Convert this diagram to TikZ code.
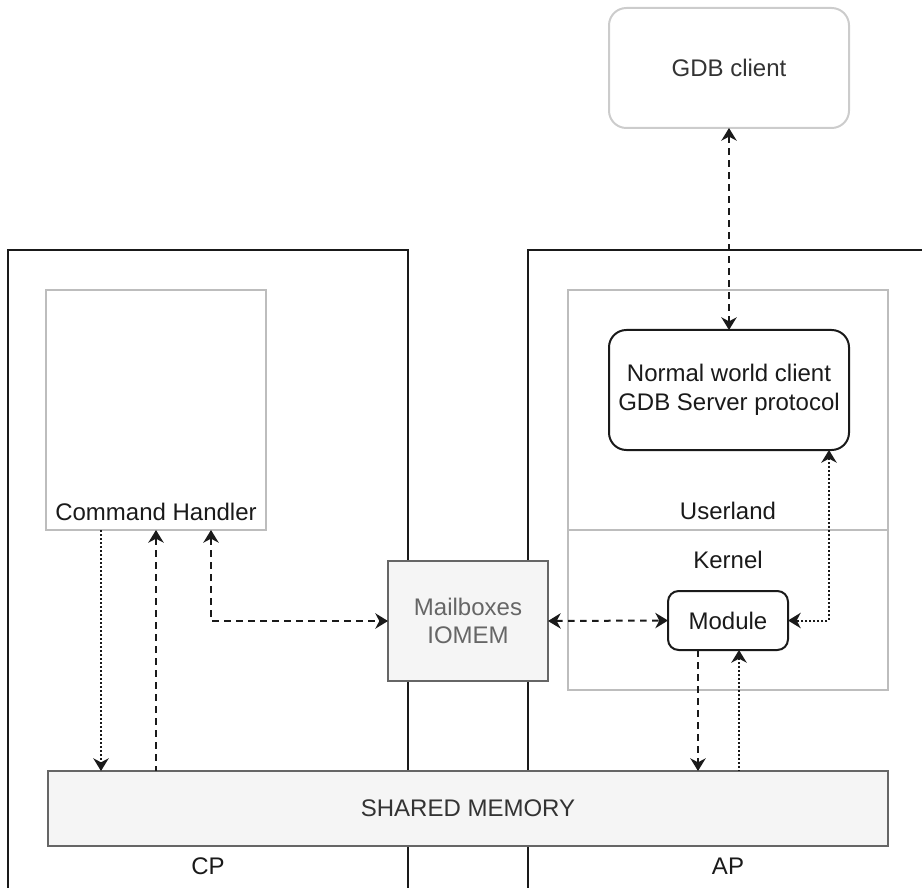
\documentclass[tikz,border=0pt]{standalone}
\usepackage{fontspec}
\setmainfont{Liberation Sans}
\usetikzlibrary{arrows.meta,calc}
\definecolor{ink}{HTML}{1A1A1A}
\definecolor{softtext}{HTML}{333333}
\definecolor{greytext}{HTML}{666666}
\definecolor{paleline}{HTML}{BDBDBD}
\definecolor{palerline}{HTML}{CCCCCC}
\definecolor{memfill}{HTML}{F5F5F5}
\definecolor{memline}{HTML}{666666}
\tikzset{
  arr/.tip={Stealth[length=9.5pt,width=11.5pt,inset=3pt]},
  lbl/.style={font=\fontsize{18}{21.5}\selectfont, text=ink, align=center, inner sep=0pt},
  box/.style={lbl, draw, line width=1.5pt, inner sep=0pt, outer sep=0pt},
  roundbox/.style={box, draw=ink, rounded corners=13pt},
  smallround/.style={box, draw=ink, rounded corners=8pt},
  palebox/.style={draw=paleline, line width=1.5pt},
  membox/.style={box, draw=memline, fill=memfill},
  frame/.style={draw=ink, line width=1.5pt},
  dsh/.style={draw=ink, line width=1.5pt, dash pattern=on 5pt off 4pt},
  dtt/.style={draw=ink, line width=1.5pt, dash pattern=on 1.5pt off 1.5pt},
}
\begin{document}
\begin{tikzpicture}[x=0.75pt,y=-0.75pt]
\useasboundingbox (0,0) rectangle (922,888);

% processor frames
\draw[frame] (8,900) -- (8,250) -- (408,250) -- (408,900);
\draw[frame] (528,900) -- (528,250) -- (930,250);

% pale containers
\draw[palebox] (46,290) rectangle (266,530);
\node[lbl] (chlabel) at (156,512) {Command Handler};
\coordinate (ch) at (156,530);
\draw[palebox] (568,290) rectangle (888,530);
\draw[palebox] (568,530) rectangle (888,690);
\node[lbl] (userland) at (728,511) {Userland};
\node[lbl] (kernel) at (728,560) {Kernel};

% processor labels
\node[lbl] (cp) at (208,866) {CP};
\node[lbl] (ap) at (728,866) {AP};

% boxes
\node[roundbox, draw=palerline, text=softtext, minimum width=180pt, minimum height=90pt] (gdb) at (729,68) {GDB client};
\node[roundbox, minimum width=180pt, minimum height=90pt] (nw) at (729,390) {Normal world client\\GDB Server protocol};
\node[smallround, minimum width=90pt, minimum height=44.25pt] (mod) at (728,620.5) {Module};
\node[membox, text=greytext, minimum width=120pt, minimum height=90pt] (mb) at (468,621) {Mailboxes\\IOMEM};
\node[membox, text=softtext, minimum width=630pt, minimum height=56.25pt] (shm) at (468,808.5) {SHARED MEMORY};

% command handler attachment points
\coordinate (cha) at ($(ch)+(-55,0)$);
\coordinate (chb) at (ch);
\coordinate (chc) at ($(ch)+(55,0)$);

% connectors
\draw[dsh, arr-arr] (gdb.south) -- (nw.north);
\draw[dtt, -arr] (cha) -- (cha |- shm.north);
\draw[dsh, arr-] (chb) -- (chb |- shm.north);
\draw[dsh, arr-arr] (chc) |- (mb.west);
\draw[dsh, arr-arr] (mb.east) -- (mod.west);
\coordinate (nwtap) at ($(nw.south east)+(-20,0)$);
\draw[dtt, arr-arr] (nwtap) |- (mod.east);
\coordinate (moda) at ($(mod.south)+(-30,0)$);
\coordinate (modb) at ($(mod.south)+(11,0)$);
\draw[dsh, -arr] (moda) -- (moda |- shm.north);
\draw[dtt, arr-] (modb) -- (modb |- shm.north);
\end{tikzpicture}
\end{document}
